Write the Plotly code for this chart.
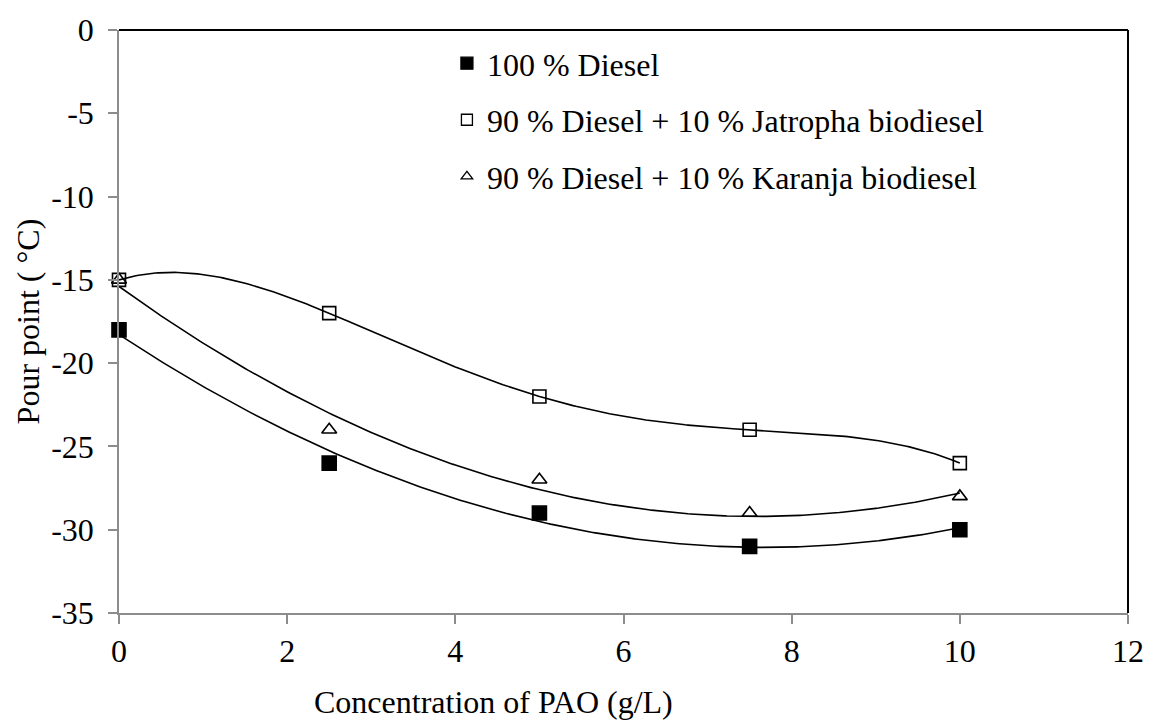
import numpy as np
import plotly.graph_objects as go

# ---- data ----
pao_conc = [0, 2.5, 5, 7.5, 10]
diesel_100 = [-18, -26, -29, -31, -30]
jatropha_blend = [-15, -17, -22, -24, -26]
karanja_blend = [-15, -24, -27, -29, -28]

series_names = [
    "100 % Diesel",
    "90 % Diesel + 10 % Jatropha biodiesel",
    "90 % Diesel + 10 % Karanja biodiesel",
]
trend_orders = [2, 4, 2]

x_ticks = [0, 2, 4, 6, 8, 10, 12]
y_ticks = [0, -5, -10, -15, -20, -25, -30, -35]

FONT = "Liberation Serif"
FS = 32
AXIS_GRAY = "#8c8c8c"

fig = go.Figure()

ys_all = [diesel_100, jatropha_blend, karanja_blend]
# trendlines (polynomial fits of the data)
xs = np.linspace(min(pao_conc), max(pao_conc), 301)
for ys, order in zip(ys_all, trend_orders):
    coef = np.polyfit(pao_conc, ys, order)
    fig.add_trace(go.Scatter(
        x=xs, y=np.polyval(coef, xs), mode="lines",
        line=dict(color="black", width=1.6),
        showlegend=False, hoverinfo="skip", cliponaxis=False))

symbols = ["square", "square-open", "triangle-up-open"]
sizes = [14, 13, 13]
legend_sizes = [12, 11, 10]
for i, (ys, name, sym) in enumerate(zip(ys_all, series_names, symbols)):
    fig.add_trace(go.Scatter(
        x=pao_conc, y=ys, mode="markers", name=name,
        marker=dict(symbol=sym, size=sizes[i], color="black",
                    line=dict(color="black", width=1.6)),
        showlegend=False, cliponaxis=False))
    # legend entry with the smaller legend glyph
    fig.add_trace(go.Scatter(
        x=[None], y=[None], mode="markers", name=name,
        legendgroup=f"g{i}",
        marker=dict(symbol=sym, size=legend_sizes[i], color="black",
                    line=dict(color="black", width=1.3))))

axis_common = dict(
    showline=True, linecolor=AXIS_GRAY, linewidth=1.5,
    ticks="outside", ticklen=9, tickwidth=1.5, tickcolor=AXIS_GRAY,
    showgrid=False, zeroline=False,
    tickfont=dict(family=FONT, size=FS, color="black"),
)

fig.update_layout(
    width=1156, height=722,
    margin=dict(l=119, r=18, t=25, b=109),
    paper_bgcolor="white", plot_bgcolor="white",
    font=dict(family=FONT, size=FS, color="black"),
    xaxis=dict(range=[0, 12], tickvals=x_ticks,
               ticktext=[str(v) for v in x_ticks], **axis_common),
    yaxis=dict(range=[-35, 0], tickvals=y_ticks,
               ticktext=[str(v) for v in y_ticks],
               ticklabelstandoff=8, **axis_common),
    legend=dict(x=0.325, y=0.99, xanchor="left", yanchor="top",
                bgcolor="rgba(0,0,0,0)", borderwidth=0,
                font=dict(family=FONT, size=FS, color="black"),
                itemwidth=30, tracegroupgap=12, traceorder="grouped"),
    shapes=[
        dict(type="line", xref="paper", yref="paper", x0=0, x1=1, y0=1, y1=1,
             line=dict(color="black", width=2)),
        dict(type="line", xref="paper", yref="paper", x0=1, x1=1, y0=0, y1=1,
             line=dict(color="black", width=2)),
    ],
    annotations=[
        dict(text="Concentration of PAO (g/L)", xref="paper", yref="paper",
             x=(497 - 119) / 1019, y=-(703 - 613) / 588,
             xanchor="center", yanchor="middle", showarrow=False,
             font=dict(family=FONT, size=FS, color="black")),
        dict(text="Pour point ( °C)", xref="paper", yref="paper",
             x=-(119 - 27) / 1019, y=0.5, textangle=-90,
             xanchor="center", yanchor="middle", showarrow=False,
             font=dict(family=FONT, size=FS, color="black")),
    ],
)

fig.write_html("out.html")
